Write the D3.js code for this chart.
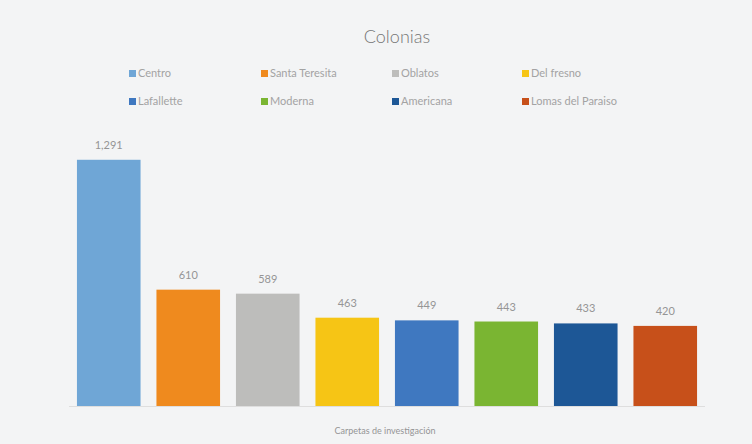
<!DOCTYPE html>
<html>
<head>
<meta charset="utf-8">
<script src="https://cdn.jsdelivr.net/npm/d3@7"></script>
<style>
  html, body { margin: 0; padding: 0; background: #f3f4f5; }
  svg { display: block; font-family: Lato, "Open Sans", sans-serif; }
</style>
</head>
<body>
<div id="chart"></div>
<script>
// datos
const categories = ["Centro", "Santa Teresita", "Oblatos", "Del fresno", "Lafallette", "Moderna", "Americana", "Lomas del Paraiso"];
const values = [1291, 610, 589, 463, 449, 443, 433, 420];
const colorsList = ["#6fa6d6", "#ef8a1e", "#bdbdbb", "#f6c515", "#3f78c0", "#7ab532", "#1d5796", "#c7501a"];
const chartTitle = "Colonias";
const axisTitle = "Carpetas de investigación";

const width = 752, height = 444;

const svg = d3.select("#chart").append("svg")
    .attr("width", width)
    .attr("height", height);

svg.append("rect").attr("width", width).attr("height", height).attr("fill", "#f3f4f5");

// escalas
const x = d3.scaleBand()
    .domain(categories)
    .range([69, 705])
    .paddingInner(0.2)
    .paddingOuter(0.1);

const y = d3.scaleLinear()
    .domain([0, 1400])
    .range([406, 139]);

const color = d3.scaleOrdinal().domain(categories).range(colorsList);

// titulo
svg.append("text")
    .attr("x", 397).attr("y", 43)
    .attr("text-anchor", "middle")
    .attr("font-size", 18)
    .attr("font-weight", 300)
    .attr("fill", "#767676")
    .text(chartTitle);

// leyenda
const legendX = [129, 261, 392, 522];
const legendY = [76, 104];
const legend = svg.append("g").selectAll("g")
    .data(categories)
    .join("g")
    .attr("transform", (d, i) => `translate(${legendX[i % 4]},${legendY[Math.floor(i / 4)]})`);

legend.append("rect")
    .attr("x", 0).attr("y", -6)
    .attr("width", 7).attr("height", 7)
    .attr("fill", d => color(d));

legend.append("text")
    .attr("x", 9).attr("y", 0)
    .attr("dy", "0.1em")
    .attr("font-size", 11)
    .attr("fill", "#a3a3a3")
    .text(d => d);

// barras
svg.append("g").selectAll("rect")
    .data(categories)
    .join("rect")
    .attr("x", d => x(d))
    .attr("y", (d, i) => y(values[i]))
    .attr("width", x.bandwidth())
    .attr("height", (d, i) => y(0) - y(values[i]))
    .attr("fill", d => color(d));

// etiquetas de datos
svg.append("g").selectAll("text")
    .data(categories)
    .join("text")
    .attr("x", d => x(d) + x.bandwidth() / 2)
    .attr("y", (d, i) => y(values[i]) - 11)
    .attr("text-anchor", "middle")
    .attr("font-size", 11)
    .attr("fill", "#959595")
    .text((d, i) => d3.format(",")(values[i]));

// linea base
svg.append("line")
    .attr("x1", 69).attr("x2", 705)
    .attr("y1", y(0) + 0.5).attr("y2", y(0) + 0.5)
    .attr("stroke", "#dedede");

// titulo del eje
svg.append("text")
    .attr("x", 385).attr("y", 434)
    .attr("text-anchor", "middle")
    .attr("font-size", 9)
    .attr("fill", "#959595")
    .text(axisTitle);
</script>
</body>
</html>
